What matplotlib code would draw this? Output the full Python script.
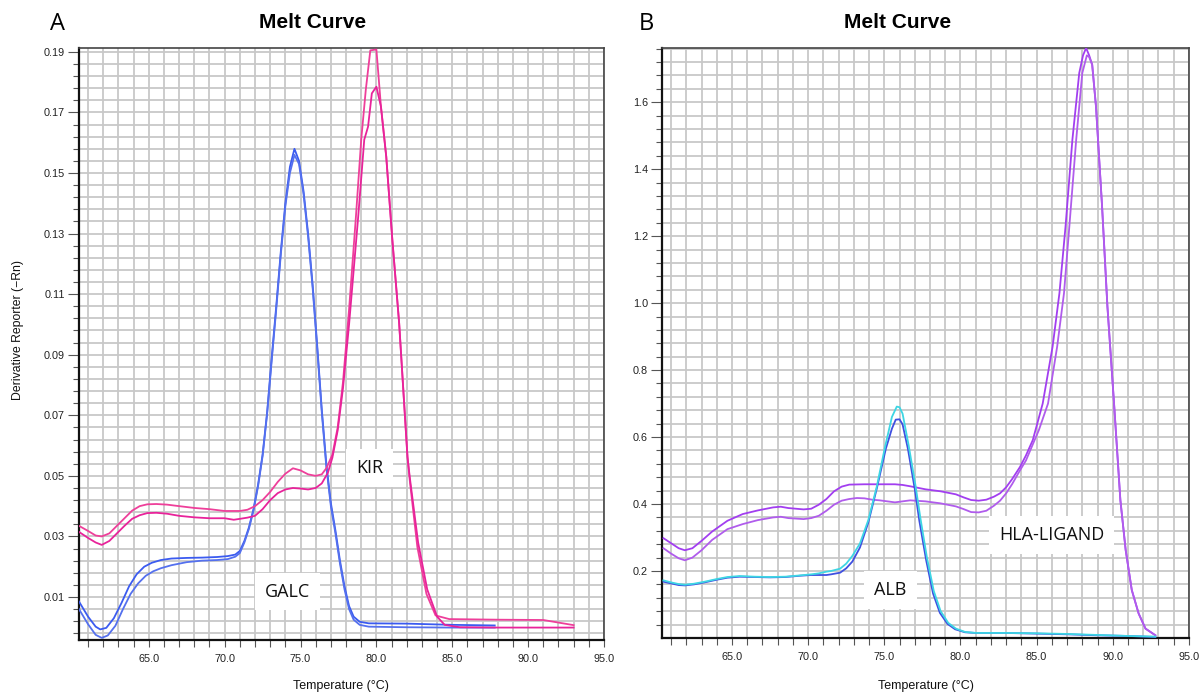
# Melt curves, two panels (GALC/KIR and ALB/HLA-LIGAND)

import numpy as np
import matplotlib.pyplot as plt
from matplotlib.ticker import MultipleLocator, FixedLocator

# ---- panel A data ----
galc1_t = [60.4, 61.0, 61.5, 61.8, 62.2, 62.7, 63.2, 63.7, 64.2, 64.7, 65.2, 65.8, 66.5, 67.5, 68.5,
           69.5, 70.2, 70.7, 71.0, 71.3, 71.6, 71.9, 72.2, 72.5, 72.8, 73.1, 73.4, 73.7, 74.0, 74.3,
           74.6, 74.9, 75.2, 75.5, 75.8, 76.1, 76.4, 76.7, 77.0, 77.3, 77.6, 77.9, 78.2, 78.5, 78.9,
           79.5, 82.0, 85.0, 87.8]
galc1_v = [0.0085, 0.0035, 0.0002, -0.0007, -0.0002, 0.003, 0.008, 0.0135, 0.0175, 0.0200, 0.0213,
           0.0222, 0.0227, 0.0229, 0.023, 0.0232, 0.0235, 0.024, 0.0252, 0.0285, 0.033, 0.039, 0.047,
           0.057, 0.071, 0.089, 0.106, 0.124, 0.140, 0.152, 0.158, 0.154, 0.144, 0.130, 0.113, 0.093,
           0.072, 0.054, 0.041, 0.032, 0.022, 0.0135, 0.007, 0.0035, 0.0018, 0.0013, 0.0012, 0.0008,
           0.0006]

galc2_t = [60.4, 61.0, 61.5, 61.9, 62.3, 62.8, 63.3, 63.8, 64.3, 64.8, 65.3, 65.8, 66.5, 67.5, 68.5,
           69.5, 70.2, 70.7, 71.0, 71.3, 71.6, 71.9, 72.2, 72.5, 72.8, 73.1, 73.4, 73.7, 74.0, 74.3,
           74.6, 74.9, 75.2, 75.5, 75.8, 76.1, 76.4, 76.7, 77.0, 77.3, 77.6, 77.9, 78.2, 78.5, 78.9,
           79.5, 82.0, 85.0, 87.8]
galc2_v = [0.006, 0.001, -0.0025, -0.0035, -0.0027, 0.0005, 0.006, 0.011, 0.0145, 0.017, 0.0185,
           0.0195, 0.0205, 0.0215, 0.022, 0.0222, 0.0225, 0.0233, 0.0245, 0.028, 0.0325, 0.0385,
           0.0465, 0.0565, 0.0705, 0.088, 0.105, 0.123, 0.139, 0.150, 0.156, 0.153, 0.143, 0.129,
           0.112, 0.092, 0.071, 0.053, 0.040, 0.031, 0.021, 0.0125, 0.006, 0.0025, 0.0008, 0.0002,
           0.0, -0.0001, -0.0001]

kir1_t = [60.4, 61.0, 61.5, 61.9, 62.4, 62.9, 63.4, 63.9, 64.4, 64.9, 65.5, 66.2, 67.0, 68.0, 69.0,
          70.0, 71.0, 71.5, 72.0, 72.5, 73.0, 73.5, 74.0, 74.5, 75.0, 75.5, 76.0, 76.4, 76.7, 77.1,
          77.45, 77.8, 78.2, 78.65, 79.0, 79.3, 79.6, 80.0, 80.3, 80.65, 81.05, 81.5, 82.05, 82.2,
          82.7, 83.3, 83.9, 84.8, 88.0, 91.0, 93.0]
kir1_v = [0.0335, 0.0318, 0.0303, 0.030, 0.031, 0.0335, 0.036, 0.0385, 0.040, 0.0406, 0.0407, 0.0405,
          0.040, 0.0394, 0.039, 0.0384, 0.0384, 0.0388, 0.040, 0.042, 0.0447, 0.048, 0.0507, 0.0525,
          0.0518, 0.0505, 0.050, 0.0505, 0.0525, 0.057, 0.066, 0.081, 0.105, 0.1355, 0.161, 0.1774,
          0.1905, 0.1908, 0.172, 0.1554, 0.128, 0.1004, 0.0562, 0.0485, 0.0265, 0.011, 0.0039,
          0.0027, 0.0025, 0.0024, 0.0007]

kir2_t = [60.4, 61.0, 61.5, 61.9, 62.4, 62.9, 63.4, 63.9, 64.4, 64.9, 65.5, 66.2, 67.0, 68.0, 69.0,
          70.0, 70.6, 71.0, 71.5, 72.0, 72.5, 73.0, 73.5, 74.0, 74.5, 75.0, 75.5, 76.0, 76.4, 76.8,
          77.1, 77.45, 77.8, 78.2, 78.8, 79.2, 79.45, 79.7, 80.0, 80.3, 80.65, 81.05, 81.5, 82.05,
          82.2, 82.75, 83.35, 84.0, 84.5, 85.5, 88.0, 93.0]
kir2_v = [0.0315, 0.0295, 0.028, 0.0272, 0.0285, 0.031, 0.0335, 0.0358, 0.037, 0.0377, 0.0378,
          0.0375, 0.0368, 0.0363, 0.036, 0.036, 0.0355, 0.0358, 0.0362, 0.0368, 0.039, 0.042, 0.0443,
          0.0455, 0.046, 0.0458, 0.0455, 0.046, 0.0475, 0.051, 0.056, 0.065, 0.079, 0.100, 0.1355,
          0.161, 0.1653, 0.1763, 0.1785, 0.1719, 0.1554, 0.128, 0.1004, 0.0562, 0.0495, 0.028,
          0.0125, 0.0035, 0.0008, 0.0, -0.0001, -0.0001]

# ---- panel B data ----
hla1_t = [60.5, 61.0, 61.5, 61.9, 62.4, 63.0, 63.7, 64.7, 65.7, 66.7, 67.7, 68.2, 68.7, 69.7, 70.2,
          70.7, 71.2, 71.7, 72.2, 72.7, 73.7, 74.7, 75.7, 76.2, 76.7, 77.7, 78.7, 79.7, 80.2, 80.7,
          81.2, 81.7, 82.2, 82.6, 83.0, 83.4, 83.9, 84.3, 84.75, 85.4, 86.05, 86.5, 86.9, 87.35, 87.8,
          88.05, 88.25, 88.45, 88.65, 88.9, 89.3, 89.65, 90.1, 90.5, 90.85, 91.25, 91.7, 92.15, 92.8]
hla1_v = [0.298, 0.283, 0.268, 0.262, 0.268, 0.29, 0.318, 0.35, 0.37, 0.381, 0.39, 0.392, 0.388,
          0.384, 0.386, 0.398, 0.415, 0.438, 0.452, 0.458, 0.459, 0.459, 0.459, 0.457, 0.453, 0.444,
          0.438, 0.429, 0.42, 0.412, 0.41, 0.413, 0.422, 0.432, 0.45, 0.475, 0.51, 0.545, 0.591, 0.70,
          0.87, 1.03, 1.229, 1.488, 1.687, 1.74, 1.762, 1.74, 1.712, 1.587, 1.288, 0.99, 0.69, 0.412,
          0.262, 0.143, 0.073, 0.028, 0.008]

hla2_t = [60.5, 61.0, 61.5, 61.9, 62.4, 63.0, 63.7, 64.7, 65.7, 66.7, 67.7, 68.2, 68.7, 69.7, 70.2,
          70.7, 71.2, 71.7, 72.2, 72.7, 73.2, 73.7, 74.2, 74.7, 75.2, 75.7, 76.2, 76.7, 77.7, 78.7,
          79.7, 80.2, 80.7, 81.2, 81.7, 82.2, 82.6, 83.0, 83.4, 83.9, 84.3, 85.15, 85.75, 86.35, 86.8,
          87.15, 87.6, 88.0, 88.3, 88.45, 88.65, 88.9, 89.3, 89.65, 90.1, 90.5, 90.85, 91.25, 91.7,
          92.15, 92.8]
hla2_v = [0.268, 0.252, 0.238, 0.232, 0.24, 0.262, 0.293, 0.325, 0.34, 0.352, 0.36, 0.362, 0.358,
          0.355, 0.358, 0.365, 0.38, 0.398, 0.41, 0.415, 0.418, 0.417, 0.413, 0.411, 0.408, 0.405,
          0.408, 0.411, 0.408, 0.402, 0.393, 0.385, 0.376, 0.375, 0.38, 0.395, 0.41, 0.432, 0.46, 0.5,
          0.53, 0.621, 0.70, 0.87, 1.03, 1.229, 1.488, 1.687, 1.74, 1.735, 1.712, 1.587, 1.288, 0.99,
          0.69, 0.412, 0.262, 0.143, 0.073, 0.028, 0.008]

alb_c_t = [60.5, 61.0, 61.5, 61.9, 62.5, 63.2, 64.0, 64.7, 65.5, 66.5, 67.5, 68.5, 69.5, 70.2, 70.7,
           71.2, 71.5, 72.1, 72.5, 72.9, 73.4, 73.95, 74.5, 75.05, 75.5, 75.82, 76.0, 76.2, 76.6,
           77.05, 77.37, 77.8, 78.25, 78.7, 79.2, 79.7, 80.3, 81.0, 83.0, 85.0, 87.0, 89.0, 91.0, 92.8]
alb_c_v = [0.172, 0.166, 0.161, 0.159, 0.162, 0.168, 0.176, 0.182, 0.185, 0.183, 0.182, 0.183, 0.187,
           0.19, 0.193, 0.198, 0.2, 0.207, 0.222, 0.245, 0.282, 0.352, 0.451, 0.571, 0.66, 0.691,
           0.689, 0.67, 0.575, 0.455, 0.358, 0.24, 0.14, 0.08, 0.045, 0.028, 0.018, 0.015, 0.015,
           0.014, 0.012, 0.009, 0.006, 0.004]

alb_b_t = [60.5, 61.0, 61.5, 61.9, 62.5, 63.2, 64.0, 64.7, 65.5, 66.5, 67.5, 68.5, 69.5, 70.2, 70.7,
           71.2, 71.5, 72.1, 72.5, 72.9, 73.4, 73.95, 74.5, 75.1, 75.5, 75.75, 76.0, 76.2, 76.55,
           77.0, 77.3, 77.75, 78.2, 78.65, 79.15, 79.65, 80.3, 81.0, 83.0, 85.0, 87.0, 89.0, 91.0, 92.8]
alb_b_v = [0.168, 0.163, 0.158, 0.157, 0.16, 0.166, 0.174, 0.18, 0.183, 0.182, 0.181, 0.182, 0.186,
           0.188, 0.188, 0.188, 0.19, 0.195, 0.208, 0.228, 0.27, 0.345, 0.445, 0.565, 0.625, 0.652,
           0.653, 0.638, 0.565, 0.445, 0.35, 0.232, 0.133, 0.075, 0.042, 0.026, 0.017, 0.015, 0.015,
           0.013, 0.011, 0.008, 0.006, 0.003]

grid_col = "#c8c8c8"
tick_font = "Liberation Sans"
label_font = "Open Sans"


def style_axes(ax, ylim, ymajor, yminor, yfmt):
    ax.set_xlim(60.4, 95.0)
    ax.set_ylim(*ylim)
    ax.xaxis.set_major_locator(MultipleLocator(5))
    ax.xaxis.set_minor_locator(MultipleLocator(1))
    ax.yaxis.set_major_locator(FixedLocator(ymajor))
    ax.yaxis.set_minor_locator(FixedLocator(yminor))
    ax.xaxis.set_major_formatter(lambda v, p: "%.1f" % v)
    ax.yaxis.set_major_formatter(lambda v, p: yfmt % v)
    ax.grid(which="both", color=grid_col, lw=1.3, zorder=0)
    ax.set_axisbelow(True)
    ax.tick_params(which="major", axis="y", length=8, width=0.8, color="#555555",
                   labelsize=7.8, labelcolor="#222222", pad=2)
    ax.tick_params(which="minor", axis="y", length=4, width=0.8, color="#555555")
    ax.tick_params(which="both", axis="x", length=5, width=0.8, color="#555555",
                   labelsize=7.8, labelcolor="#222222", pad=5)
    for lab in ax.get_xticklabels() + ax.get_yticklabels():
        lab.set_fontfamily(tick_font)
    for s in ["top", "right"]:
        ax.spines[s].set_color("#444444")
        ax.spines[s].set_linewidth(1.2)
    for s in ["left", "bottom"]:
        ax.spines[s].set_color("#111111")
        ax.spines[s].set_linewidth(1.6)


def tag(ax, x, y, txt):
    ax.text(x, y, txt, ha="center", va="center", fontsize=13, family=label_font,
            color="#111111", zorder=5,
            bbox=dict(boxstyle="square,pad=0.55", fc="white", ec="none"))


fig = plt.figure(figsize=(12.02, 6.93), dpi=100)
axA = fig.add_axes([0.0657, 0.0765, 0.4368, 0.8543])
axB = fig.add_axes([0.5507, 0.0794, 0.4384, 0.8514])

# panel A
a_major = [0.01 + 0.02 * i for i in range(10)]
a_minor = [-0.002 + 0.004 * i for i in range(49)]
style_axes(axA, (-0.0042, 0.1913), a_major, a_minor, "%.2f")
axA.plot(galc1_t, galc1_v, color="#3b5bf0", lw=1.3, zorder=3)
axA.plot(galc2_t, galc2_v, color="#5470ee", lw=1.3, zorder=3)
axA.plot(kir1_t, kir1_v, color="#ee3f9a", lw=1.3, zorder=3)
axA.plot(kir2_t, kir2_v, color="#e8239a", lw=1.3, zorder=3)
tag(axA, 79.55, 0.0525, "KIR")
tag(axA, 74.15, 0.0118, "GALC")

# panel B
b_major = [0.2 * i for i in range(1, 9)]
b_minor = [0.04 * i for i in range(1, 45)]
style_axes(axB, (0.0, 1.762), b_major, b_minor, "%.1f")
axB.plot(hla1_t, hla1_v, color="#a23ef0", lw=1.3, zorder=3)
axB.plot(hla2_t, hla2_v, color="#b05cec", lw=1.3, zorder=3)
axB.plot(alb_b_t, alb_b_v, color="#3f4fe0", lw=1.3, zorder=3)
axB.plot(alb_c_t, alb_c_v, color="#3ed6e4", lw=1.3, zorder=3)
tag(axB, 75.4, 0.143, "ALB")
tag(axB, 86.0, 0.307, "HLA-LIGAND")

# titles, panel letters, axis labels
for x, letter, tx in [(57, "A", 313), (646, "B", 898)]:
    fig.text(x / 1202, 1 - 24 / 693, letter, fontsize=17, family=label_font,
             ha="center", va="center")
    fig.text(tx / 1202, 1 - 23 / 693, "Melt Curve", fontsize=15, family=tick_font,
             weight="bold", ha="center", va="center")
    fig.text((tx + 28) / 1202, 1 - 686 / 693, "Temperature (\u00b0C)", fontsize=9,
             family=tick_font, ha="center", va="center", color="#111111")

fig.text(18 / 1202, 1 - 330 / 693, "Derivative Reporter (\u2212Rn)", fontsize=8.8,
         family=tick_font, rotation=90, ha="center", va="center", color="#111111")

plt.savefig("out.png", dpi=100)
